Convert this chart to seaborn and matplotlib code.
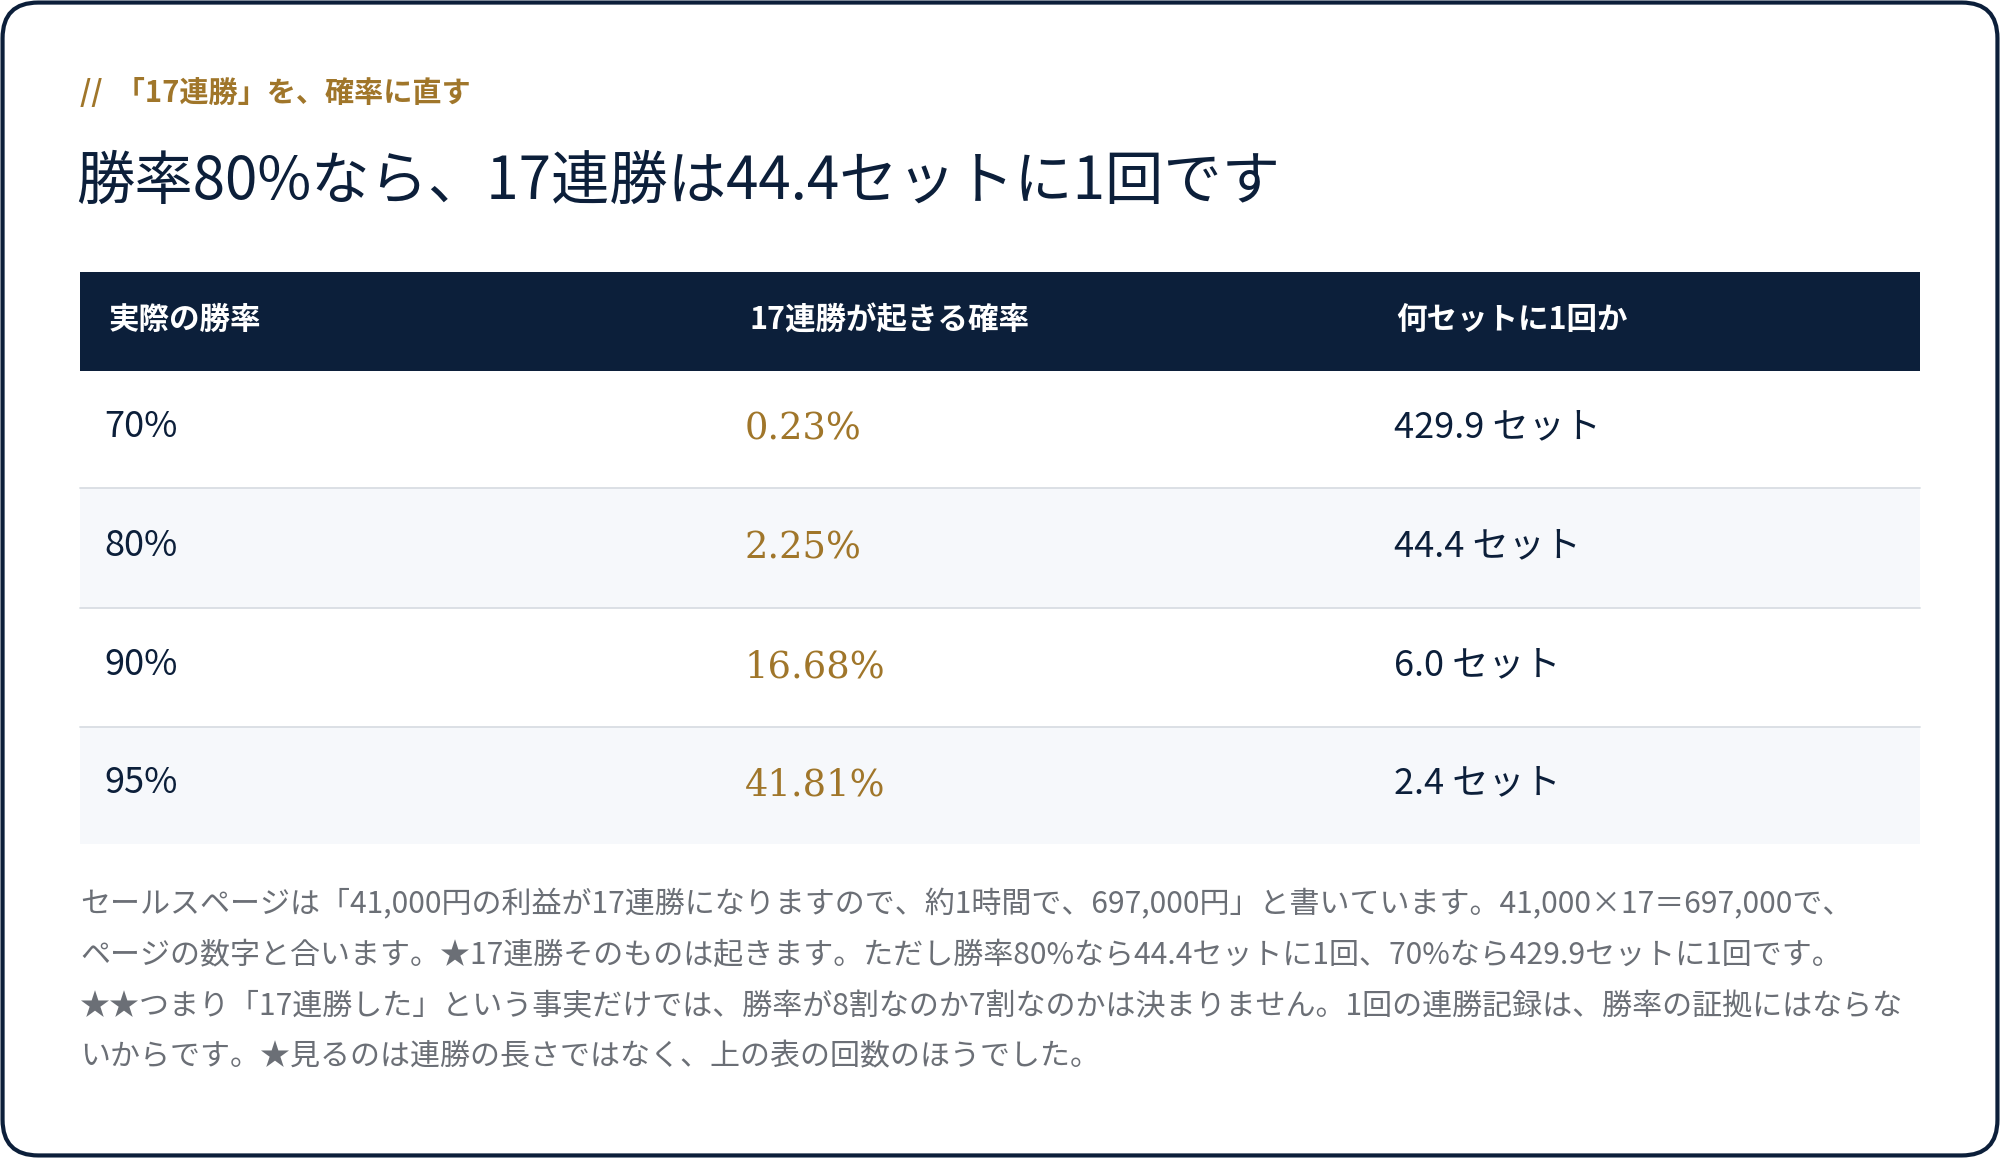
import matplotlib
matplotlib.use("Agg")
import matplotlib.pyplot as plt
from matplotlib.patches import FancyBboxPatch, Rectangle
import seaborn as sns
import pandas as pd

sns.set_theme(style="white")
plt.rcParams['font.family'] = ['Noto Sans CJK JP', 'DejaVu Sans']

kicker = "//  「17連勝」を、確率に直す"
title = "勝率80%なら、17連勝は44.4セットに1回です"
headers = ["実際の勝率", "17連勝が起きる確率", "何セットに1回か"]
win_rates = ["70%", "80%", "90%", "95%"]
probs = ["0.23%", "2.25%", "16.68%", "41.81%"]
sets = ["429.9 セット", "44.4 セット", "6.0 セット", "2.4 セット"]
note_lines = [
    "セールスページは「41,000円の利益が17連勝になりますので、約1時間で、697,000円」と書いています。41,000×17＝697,000で、",
    "ページの数字と合います。★17連勝そのものは起きます。ただし勝率80%なら44.4セットに1回、70%なら429.9セットに1回です。",
    "★★つまり「17連勝した」という事実だけでは、勝率が8割なのか7割なのかは決まりません。1回の連勝記録は、勝率の証拠にはならな",
    "いからです。★見るのは連勝の長さではなく、上の表の回数のほうでした。",
]
df = pd.DataFrame({"rate": win_rates, "prob": probs, "sets": sets})

NAVY = "#0c1f3a"; GOLD = "#a0762a"; GRAY = "#6b6f76"
W, H = 1568, 908
fig = plt.figure(figsize=(20, 11.58), dpi=100)
ax = fig.add_axes([0, 0, 1, 1])
ax.set_xlim(0, W); ax.set_ylim(H, 0); ax.axis("off")

ax.add_patch(FancyBboxPatch((2, 2), W - 4, H - 4, boxstyle="round,pad=0,rounding_size=28",
                            fc="white", ec=NAVY, lw=3))
ax.text(63, 73, kicker, color=GOLD, fontsize=21, fontweight="bold", va="center")
ax.text(60, 143, title, color=NAVY, fontsize=42, va="center")

ax.add_patch(Rectangle((63, 213), 1442, 78, fc=NAVY, ec="none"))
colx = [85, 588, 1095]
for x, h in zip(colx, headers):
    ax.text(x, 251, h, color="white", fontsize=22, fontweight="bold", va="center")

bounds = [291, 383, 477, 570, 662]
for i, row in df.iterrows():
    y0, y1 = bounds[i], bounds[i + 1]
    if i % 2 == 1:
        ax.add_patch(Rectangle((63, y0), 1442, y1 - y0, fc="#f6f8fb", ec="none"))
    if i < 3:
        ax.plot([63, 1505], [y1, y1], color="#d9dde3", lw=1.3)
    yc = (y0 + y1) / 2 - 2
    ax.text(82, yc, row["rate"], color=NAVY, fontsize=26, va="center")
    ax.text(584, yc + 2, row["prob"], color=GOLD, fontsize=26.5, va="center", family="DejaVu Serif")
    ax.text(1093, yc, row["sets"], color=NAVY, fontsize=26, va="center")

for k, line in enumerate(note_lines):
    ax.text(63, 709 + k * 40, line, color=GRAY, fontsize=21.6, va="center")

fig.savefig("out.png", dpi=100)
